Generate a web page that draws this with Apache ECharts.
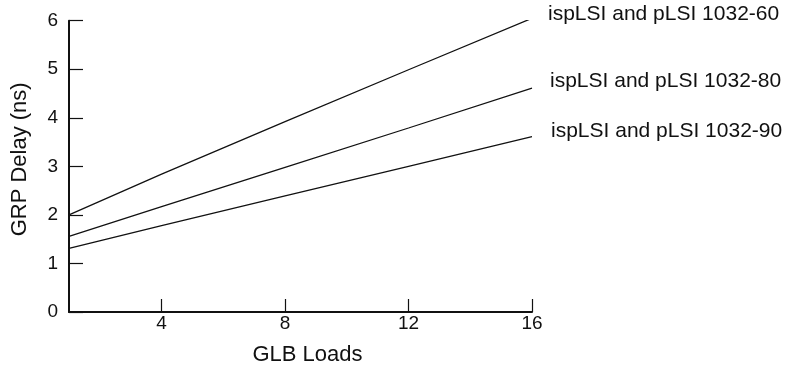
<!DOCTYPE html>
<html>
<head>
<meta charset="utf-8">
<script src="https://cdn.jsdelivr.net/npm/echarts@6/dist/echarts.min.js"></script>
<style>html,body{margin:0;padding:0;background:#fff}#c{width:790px;height:371px}</style>
</head>
<body>
<div id="c"></div>
<script>
const xLoads = [1, 4, 8, 12, 16];
const delay60 = [2.0, 2.84, 3.92, 4.99, 6.05];
const delay80 = [1.56, 2.17, 2.98, 3.79, 4.61];
const delay90 = [1.31, 1.78, 2.39, 3.0, 3.61];
const seriesNames = ['ispLSI and pLSI 1032-60', 'ispLSI and pLSI 1032-80', 'ispLSI and pLSI 1032-90'];
const xTicks = [4, 8, 12, 16];
const yTicks = [0, 1, 2, 3, 4, 5, 6];

const font = 'Liberation Sans, Arial, Helvetica, sans-serif';
const chart = echarts.init(document.getElementById('c'), null, {renderer: 'canvas'});
const allData = [delay60, delay80, delay90];
const labelOffsets = [[16, -4], [18, -7], [19, -6]];
chart.setOption({
  animation: false,
  backgroundColor: '#fff',
  grid: {left: 69, right: 258, top: 20.7, bottom: 58.7, containLabel: false},
  xAxis: {
    type: 'value', min: 1, max: 16,
    name: 'GLB Loads', nameLocation: 'middle', nameGap: 32,
    nameTextStyle: {fontFamily: font, fontSize: 22, color: '#111', padding: [0, 0, 0, 14]},
    axisLine: {show: true, lineStyle: {color: '#111', width: 2}},
    axisTick: {show: true, inside: true, length: 13, customValues: xTicks, lineStyle: {color: '#111', width: 1.2}},
    axisLabel: {customValues: xTicks, fontFamily: font, fontSize: 19, color: '#111', margin: 2},
    splitLine: {show: false}
  },
  yAxis: {
    type: 'value', min: yTicks[0], max: yTicks[yTicks.length - 1], interval: 1,
    name: 'GRP Delay (ns)', nameLocation: 'middle', nameGap: 38,
    nameTextStyle: {fontFamily: font, fontSize: 22, color: '#111', padding: [0, 0, 0, 14]},
    axisLine: {show: true, lineStyle: {color: '#111', width: 2}},
    axisTick: {show: true, inside: true, length: 14, lineStyle: {color: '#111', width: 1.2}},
    axisLabel: {fontFamily: font, fontSize: 19, color: '#111', margin: 11},
    splitLine: {show: false}
  },
  series: allData.map((d, i) => ({
    type: 'line', name: seriesNames[i],
    data: xLoads.map((x, j) => [x, d[j]]),
    showSymbol: false, symbol: 'none',
    lineStyle: {color: '#111', width: 1.3},
    endLabel: {
      show: true, formatter: seriesNames[i], fontFamily: font, fontSize: 21, color: '#111',
      distance: 0, offset: labelOffsets[i]
    }
  }))
});
</script>
</body>
</html>
